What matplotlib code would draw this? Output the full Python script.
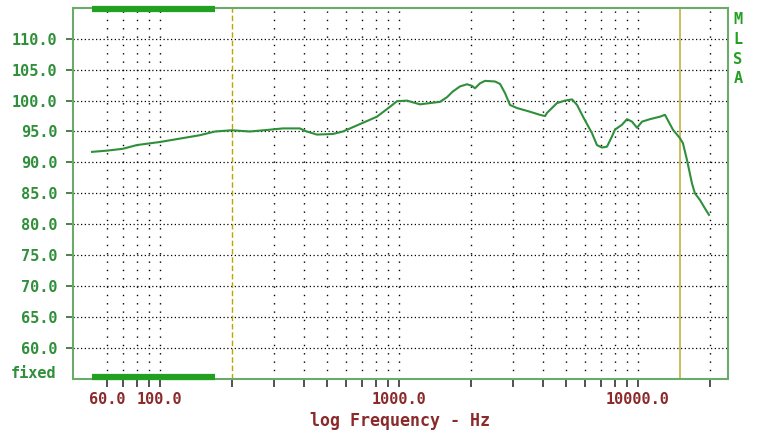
import matplotlib
matplotlib.use("Agg")
import matplotlib.pyplot as plt
from matplotlib.transforms import blended_transform_factory

# frequency response (Hz, dB)
freq = [52, 60, 70, 80, 100, 147, 170, 200, 238, 290, 327, 385, 404, 454, 529,
        583, 687, 809, 917, 981, 1080, 1224, 1484, 1588, 1683, 1800, 1926, 2020,
        2080, 2183, 2291, 2523, 2649, 2780, 2913, 3118, 3534, 3890, 4085, 4160,
        4582, 4950, 5300, 5560, 5890, 6425, 6735, 7070, 7420, 7785, 8010, 8575,
        8995, 9440, 9910, 10400, 11230, 12360, 12970, 14000, 14990, 15420, 16030,
        16820, 17300, 18170, 19060, 19820]
spl = [91.7, 91.9, 92.2, 92.8, 93.3, 94.4, 95.0, 95.2, 95.0, 95.3, 95.5, 95.5,
       95.1, 94.5, 94.6, 95.0, 96.2, 97.4, 99.0, 99.9, 100.0, 99.4, 99.8, 100.55,
       101.5, 102.3, 102.65, 102.4, 102.0, 102.8, 103.2, 103.1, 102.7, 101.2,
       99.3, 98.8, 98.2, 97.7, 97.5, 98.0, 99.6, 100.0, 100.2, 99.3, 97.4, 94.7,
       92.8, 92.4, 92.55, 94.2, 95.3, 96.1, 97.0, 96.6, 95.6, 96.6, 97.0, 97.4,
       97.7, 95.3, 93.9, 93.1, 90.4, 86.6, 85.0, 83.9, 82.55, 81.5]

y_ticks = [60, 65, 70, 75, 80, 85, 90, 95, 100, 105, 110]
x_grid = [60, 70, 80, 90, 100, 300, 400, 500, 600, 700, 800, 900, 1000,
          2000, 3000, 4000, 5000, 6000, 7000, 8000, 9000, 10000, 20000]
x_ticks = sorted(x_grid + [200])
x_labels = {60: "60.0", 100: "100.0", 1000: "1000.0", 10000: "10000.0"}
marker_dashed = 200
marker_solid = 15000
bar_range = [52, 170]

GREEN = "#2f8f3a"
RED = "#8b2a2a"
MONO = "DejaVu Sans Mono"

fig = plt.figure(figsize=(7.59, 4.34), dpi=100)
ax = fig.add_axes([73 / 759, 1 - 378.5 / 434, 655 / 759, 370.5 / 434])
ax.set_xscale("log")
ax.set_xlim(43.3, 23800)
ax.set_ylim(55, 115)

# grid
for y in y_ticks:
    ax.axhline(y, color="black", lw=0.9, ls=(0, (1, 2)), zorder=1)
for x in x_grid:
    ax.axvline(x, color="black", lw=1.0, ls=(0, (1, 5)), zorder=1)
ax.axvline(marker_dashed, color="#b8a800", lw=1.0, ls=(0, (4, 2)), zorder=2)
ax.axvline(marker_solid, color="#c8b850", lw=1.3, zorder=2)

# thick bars at top and bottom
trans = blended_transform_factory(ax.transData, ax.transAxes)
ax.plot(bar_range, [0.997, 0.997], color="#22a022", lw=4.5, transform=trans,
        solid_capstyle="butt", clip_on=False, zorder=4)
ax.plot(bar_range, [0.004, 0.004], color="#22a022", lw=4.5, transform=trans,
        solid_capstyle="butt", clip_on=False, zorder=4)

ax.plot(freq, spl, color=GREEN, lw=1.5, zorder=3)

for s in ax.spines.values():
    s.set_color("#6aaa6a")
    s.set_linewidth(1.5)

ax.set_yticks(y_ticks)
ax.set_yticklabels([f"{v:.1f}" for v in y_ticks], fontfamily=MONO,
                   fontweight="bold", fontsize=11, color=GREEN)
ax.tick_params(axis="y", length=5, width=1.3, color="#3a7a3a", pad=6)

ax.set_xticks(x_ticks)
ax.set_xticklabels([x_labels.get(v, "") for v in x_ticks], fontfamily=MONO,
                   fontweight="bold", fontsize=11, color=RED)
ax.xaxis.set_minor_locator(matplotlib.ticker.NullLocator())
ax.tick_params(axis="x", length=6, width=1.2, color="#333333", pad=4)

ax.set_xlabel("log Frequency - Hz", fontfamily=MONO, fontweight="bold",
              fontsize=12, color=RED, labelpad=3)

fig.text(11 / 759, 1 - 374 / 434, "fixed", fontfamily=MONO, fontweight="bold",
         fontsize=11, color=GREEN, va="center", ha="left")
for i, ch in enumerate("MLSA"):
    fig.text(738 / 759, 1 - (20 + i * 19.5) / 434, ch, fontfamily=MONO,
             fontweight="bold", fontsize=11, color="#22a022",
             va="center", ha="center")

fig.savefig("out.png", dpi=100, facecolor="white")
